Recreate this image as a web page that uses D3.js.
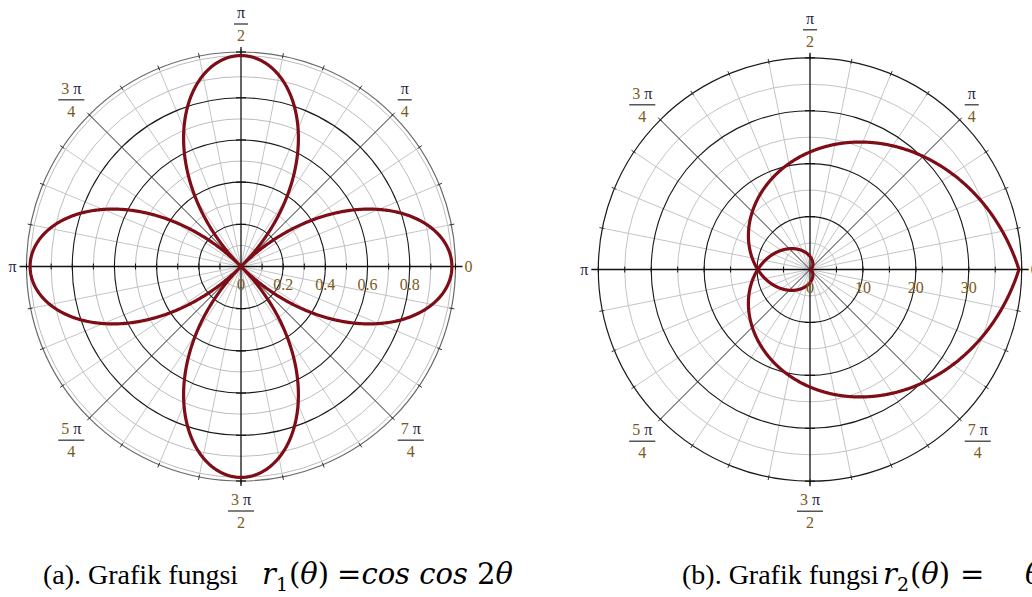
<!DOCTYPE html>
<html>
<head>
<meta charset="utf-8">
<script src="https://cdn.jsdelivr.net/npm/d3@7"></script>
<style>
  html, body { margin: 0; padding: 0; background: #fff; }
  svg { display: block; }
</style>
</head>
<body>
<svg id="chart" width="1032" height="597"></svg>
<script>
// ---- angular ticks: k·π/4, written as fractions ----
const angleSteps = [0, 1, 2, 3, 4, 5, 6, 7];
const angleNumerators = ["0", "π", "π", "3 π", "π", "5 π", "3 π", "7 π"];
const angleDenominators = ["", "4", "2", "4", "", "4", "2", "4"];

// ---- panel (a): r1(θ) = cos 2θ ----
const radialTicksA = [0, 0.2, 0.4, 0.6, 0.8];
const radialTickLabelsA = ["0", "0.2", "0.4", "0.6", "0.8"];
const majorRingsA = [0.2, 0.4, 0.6, 0.8];
const minorRingsA = [0.1, 0.3, 0.5, 0.7, 0.9, 1.0];
const axisTicksA = [0.1, 0.2, 0.3, 0.4, 0.5, 0.6, 0.7, 0.8, 0.9];
const thetaRangeA = [0, 2 * Math.PI];
const outerValueA = 1.017;
const r1 = theta => Math.cos(2 * theta);

// ---- panel (b): r2(θ) = θ² ----
const radialTicksB = [0, 10, 20, 30];
const radialTickLabelsB = ["0", "10", "20", "30"];
const majorRingsB = [10, 20, 30];
const minorRingsB = [5, 15, 25, 35];
const axisTicksB = [5, 10, 15, 20, 25, 30, 35];
const thetaRangeB = [-2 * Math.PI, 2 * Math.PI];
const outerValueB = 40;
const r2 = theta => theta * theta;

const CURVE_COLOR = "#7e0d17";
const LABEL_DIGIT = "#7a5a1c";
const LABEL_PI = "#1f2442";

const svg = d3.select("#chart");

function drawPanel(opts) {
  const { cx, cy, outerPx, outerValue, majorRings, minorRings, axisTicks,
          radialTicks, radialTickLabels, fn, thetaRange, doubleRim } = opts;
  const g = svg.append("g").attr("transform", `translate(${cx},${cy})`);
  const r = d3.scaleLinear().domain([0, outerValue]).range([0, outerPx]);
  const R = outerPx;
  const pt = (rad, a) => [rad * Math.cos(a), -rad * Math.sin(a)];

  // minor spokes every π/16
  const minorAngles = d3.range(32).filter(k => k % 4 !== 0).map(k => k * Math.PI / 16);
  g.append("g").selectAll("line").data(minorAngles).join("line")
    .attr("x1", 0).attr("y1", 0)
    .attr("x2", a => pt(R, a)[0]).attr("y2", a => pt(R, a)[1])
    .attr("stroke", "#c4c4c4").attr("stroke-width", 1);

  // minor rings
  g.append("g").selectAll("circle").data(minorRings).join("circle")
    .attr("r", d => r(d)).attr("fill", "none")
    .attr("stroke", doubleRim ? "#bdbdbd" : "#c4c4c4").attr("stroke-width", 1);

  // major rings
  g.append("g").selectAll("circle").data(majorRings).join("circle")
    .attr("r", d => r(d)).attr("fill", "none")
    .attr("stroke", "#1a1a1a").attr("stroke-width", 1.1);

  // rim
  g.append("circle").attr("r", R).attr("fill", "none")
    .attr("stroke", doubleRim ? "#6a6a6a" : "#1a1a1a").attr("stroke-width", 1.2);

  // rim ticks at every π/16
  const rimAngles = d3.range(32).map(k => k * Math.PI / 16);
  g.append("g").selectAll("line").data(rimAngles).join("line")
    .attr("x1", a => pt(R - 2, a)[0]).attr("y1", a => pt(R - 2, a)[1])
    .attr("x2", a => pt(R + 3, a)[0]).attr("y2", a => pt(R + 3, a)[1])
    .attr("stroke", "#333").attr("stroke-width", 1);

  // diagonal major spokes
  const diagAngles = [1, 3, 5, 7].map(k => k * Math.PI / 4);
  g.append("g").selectAll("line").data(diagAngles).join("line")
    .attr("x1", 0).attr("y1", 0)
    .attr("x2", a => pt(R, a)[0]).attr("y2", a => pt(R, a)[1])
    .attr("stroke", "#222").attr("stroke-width", 1);

  // axes
  g.append("line").attr("x1", -R - 7).attr("x2", R + 7).attr("y1", 0).attr("y2", 0)
    .attr("stroke", "#111").attr("stroke-width", 1.3);
  g.append("line").attr("x1", 0).attr("x2", 0).attr("y1", -R - 5).attr("y2", R + 5)
    .attr("stroke", "#111").attr("stroke-width", 1.3);

  // axis ticks
  const hTicks = axisTicks.concat([outerValue]).flatMap(v => [r(v), -r(v)]);
  g.append("g").selectAll("line").data(hTicks).join("line")
    .attr("x1", d => d).attr("x2", d => d).attr("y1", -3).attr("y2", 3)
    .attr("stroke", "#111").attr("stroke-width", 1);
  const vTicks = majorRings.concat([outerValue]).flatMap(v => [r(v), -r(v)]);
  g.append("g").selectAll("line").data(vTicks).join("line")
    .attr("y1", d => d).attr("y2", d => d).attr("x1", -5).attr("x2", 5)
    .attr("stroke", "#111").attr("stroke-width", 1.2);

  // curve
  const step = Math.PI / 720;
  const thetas = d3.range(thetaRange[0], thetaRange[1] + step / 2, step);
  const line = d3.lineRadial()
    .angle(t => Math.PI / 2 - t)
    .radius(t => r(fn(t)));
  g.append("path").attr("d", line(thetas))
    .attr("fill", "none").attr("stroke", CURVE_COLOR)
    .attr("stroke-width", 3.2).attr("stroke-linejoin", "round");

  // radial tick labels
  g.append("g").selectAll("text").data(radialTicks).join("text")
    .attr("x", d => r(d)).attr("y", 23)
    .attr("text-anchor", "middle")
    .attr("font-family", "Liberation Serif, serif").attr("font-size", 16)
    .attr("fill", LABEL_DIGIT)
    .text((d, i) => radialTickLabels[i]);

  // angle labels
  const font = "Liberation Serif, serif";
  angleSteps.forEach((k, i) => {
    const a = k * Math.PI / 4;
    const num = angleNumerators[i], den = angleDenominators[i];
    if (k === 0 || k === 4) {
      // plain labels at the ends of the horizontal axis
      const t = g.append("text")
        .attr("x", k === 0 ? R + 13 : -R - 14).attr("y", 5)
        .attr("text-anchor", "middle")
        .attr("font-family", font).attr("font-size", 16);
      if (k === 0) t.attr("fill", LABEL_DIGIT).text("0");
      else t.attr("fill", LABEL_PI).text("π");
      return;
    }
    const lab = g.append("g");
    const numText = lab.append("text").attr("text-anchor", "middle")
      .attr("font-family", font).attr("font-size", 16).attr("y", -6);
    num.split(/(π)/).filter(s => s.length).forEach(part => {
      numText.append("tspan")
        .attr("fill", part === "π" ? LABEL_PI : LABEL_DIGIT)
        .text(part);
    });
    lab.append("text").attr("text-anchor", "middle")
      .attr("font-family", font).attr("font-size", 16).attr("y", 17)
      .attr("fill", LABEL_DIGIT).text(den);
    const w = Math.max(numText.node().getComputedTextLength(), 8) + 6;
    lab.append("line").attr("x1", -w / 2).attr("x2", w / 2)
      .attr("y1", 0).attr("y2", 0)
      .attr("stroke", "#2a2a2a").attr("stroke-width", 1.2);

    const [ex, ey] = pt(R, a);
    let dx = 0, dy = 0;
    if (k === 2) dy = -28;
    else if (k === 6) dy = 30;
    else {
      dx = Math.sign(Math.cos(a)) * (w / 2 + 5);
      dy = Math.sin(a) > 0 ? -15 : 22;
    }
    lab.attr("transform", `translate(${ex + dx},${ey + dy})`);
  });
}

drawPanel({
  cx: 241, cy: 266.5, outerPx: 214.5, outerValue: outerValueA,
  majorRings: majorRingsA, minorRings: minorRingsA, axisTicks: axisTicksA,
  radialTicks: radialTicksA, radialTickLabels: radialTickLabelsA,
  fn: r1, thetaRange: thetaRangeA, doubleRim: true
});

drawPanel({
  cx: 810, cy: 269.5, outerPx: 211.7, outerValue: outerValueB,
  majorRings: majorRingsB, minorRings: minorRingsB, axisTicks: axisTicksB,
  radialTicks: radialTicksB, radialTickLabels: radialTickLabelsB,
  fn: r2, thetaRange: thetaRangeB, doubleRim: false
});

// ---- captions: plain text, then the function set in a math face ----
const TEXT_FONT = "Liberation Serif, serif";
const MATH_FONT = "DejaVu Serif, serif";

function caption(textX, label, mathX, parts) {
  svg.append("text").attr("x", textX).attr("y", 584)
    .attr("font-family", TEXT_FONT).attr("font-size", 28)
    .attr("fill", "#000").text(label);
  const m = svg.append("text").attr("x", mathX).attr("y", 584)
    .attr("font-family", MATH_FONT).attr("font-size", 29)
    .attr("fill", "#000");
  parts.forEach(p => {
    const s = m.append("tspan").text(p.text);
    if (p.x !== undefined) s.attr("x", p.x);
    if (p.italic) s.attr("font-style", "italic");
    if (p.size) s.attr("font-size", p.size);
    if (p.dy) s.attr("dy", p.dy);
    if (p.dx) s.attr("dx", p.dx);
  });
}

caption(43, "(a). Grafik fungsi", 262, [
  { text: "r", italic: true },
  { text: "1", size: 19, dy: 7 },
  { text: "(", dy: -7, dx: 1 },
  { text: "θ", italic: true },
  { text: ")" },
  { text: "=", dx: 8 },
  { text: "cos cos ", italic: true },
  { text: "2" },
  { text: "θ", italic: true }
]);

caption(682, "(b). Grafik fungsi", 883, [
  { text: "r", italic: true },
  { text: "2", size: 19, dy: 7 },
  { text: "(", dy: -7, dx: 1 },
  { text: "θ", italic: true },
  { text: ")" },
  { text: "=", x: 960 },
  { text: "θ", x: 1025, italic: true }
]);
</script>
</body>
</html>
